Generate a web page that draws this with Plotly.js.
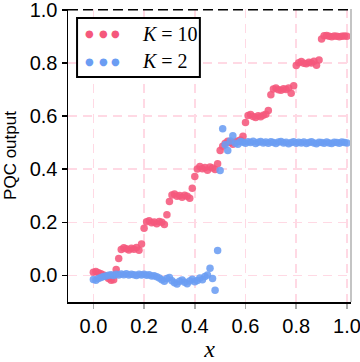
<!DOCTYPE html>
<html>
<head>
<meta charset="utf-8">
<script src="https://cdn.plot.ly/plotly-3.0.1.min.js"></script>
<style>
  html, body { margin: 0; padding: 0; background: #fff; }
  #chart { width: 360px; height: 362px; }
</style>
</head>
<body>
<div id="chart"></div>
<script>
// input x grid shared by both series
const xVals = [
  0.00, 0.01, 0.02, 0.03, 0.04, 0.05, 0.06, 0.07, 0.08, 0.09,
  0.10, 0.11, 0.12, 0.13, 0.14, 0.15, 0.16, 0.17, 0.18, 0.19,
  0.20, 0.21, 0.22, 0.23, 0.24, 0.25, 0.26, 0.27, 0.28, 0.29,
  0.30, 0.31, 0.32, 0.33, 0.34, 0.35, 0.36, 0.37, 0.38, 0.39,
  0.40, 0.41, 0.42, 0.43, 0.44, 0.45, 0.46, 0.47, 0.48, 0.49,
  0.50, 0.51, 0.52, 0.53, 0.54, 0.55, 0.56, 0.57, 0.58, 0.59,
  0.60, 0.61, 0.62, 0.63, 0.64, 0.65, 0.66, 0.67, 0.68, 0.69,
  0.70, 0.71, 0.72, 0.73, 0.74, 0.75, 0.76, 0.77, 0.78, 0.79,
  0.80, 0.81, 0.82, 0.83, 0.84, 0.85, 0.86, 0.87, 0.88, 0.89,
  0.90, 0.91, 0.92, 0.93, 0.94, 0.95, 0.96, 0.97, 0.98, 0.99,
  1.00
]

// PQC output, K = 10
const outK10 = [
  0.012, 0.015, 0.010, 0.006, 0.002, -0.004, -0.012, -0.018, -0.016, 0.022,
  0.064, 0.098, 0.104, 0.100, 0.096, 0.102, 0.099, 0.105, 0.095, 0.118,
  0.178, 0.202, 0.206, 0.198, 0.201, 0.195, 0.203, 0.200, 0.192, 0.228,
  0.278, 0.303, 0.307, 0.298, 0.301, 0.294, 0.302, 0.298, 0.291, 0.328,
  0.372, 0.401, 0.410, 0.402, 0.406, 0.396, 0.408, 0.404, 0.399, 0.420,
  0.470, 0.486, 0.498, 0.505, 0.500, 0.494, 0.502, 0.506, 0.510, 0.524,
  0.576, 0.602, 0.606, 0.598, 0.595, 0.601, 0.597, 0.603, 0.607, 0.621,
  0.680, 0.702, 0.706, 0.699, 0.697, 0.703, 0.700, 0.706, 0.686, 0.714,
  0.790, 0.801, 0.805, 0.799, 0.797, 0.803, 0.800, 0.806, 0.791, 0.811,
  0.890, 0.902, 0.903, 0.900, 0.899, 0.901, 0.900, 0.899, 0.900, 0.901,
  0.900
]

// PQC output, K = 2
const outK2 = [
  -0.015, -0.018, -0.012, -0.008, -0.004, -0.002, 0.001, 0.003, 0.000, 0.004,
  0.002, 0.005, 0.003, 0.006, 0.002, 0.004, 0.003, 0.000, 0.004, 0.002,
  0.004, 0.001, 0.003, -0.002, -0.001, -0.005, -0.010, -0.016, -0.022, -0.012,
  -0.008, -0.020, -0.028, -0.032, -0.022, -0.017, -0.026, -0.031, -0.021, -0.014,
  -0.024, -0.019, -0.010, -0.016, -0.004, 0.002, 0.027, -0.012, -0.056, 0.094,
  0.395, 0.552, 0.492, 0.470, 0.506, 0.526, 0.498, 0.494, 0.504, 0.501,
  0.498, 0.503, 0.500, 0.505, 0.497, 0.501, 0.504, 0.499, 0.502, 0.498,
  0.503, 0.500, 0.497, 0.502, 0.504, 0.499, 0.501, 0.496, 0.500, 0.503,
  0.498, 0.501, 0.499, 0.502, 0.497, 0.500, 0.503, 0.499, 0.496, 0.501,
  0.500, 0.498, 0.502, 0.499, 0.497, 0.501, 0.500, 0.498, 0.502, 0.500,
  0.499
]

const tickVals = [0, 0.2, 0.4, 0.6, 0.8, 1.0]
const tickText = ['0.0', '0.2', '0.4', '0.6', '0.8', '1.0']

const seriesNames = ['<i>K</i> = 10', '<i>K</i> = 2']
const seriesColors = ['#f5587c', '#6b9df3']

const container = document.getElementById('chart')

const scatterK10 = {
  name: seriesNames[0],
  x: xVals,
  y: outK10,
  type: 'scatter',
  mode: 'markers',
  marker: { color: seriesColors[0], size: 7.5, opacity: 0.88 },
  showlegend: false
}

const scatterK2 = {
  name: seriesNames[1],
  x: xVals,
  y: outK2,
  type: 'scatter',
  mode: 'markers',
  marker: { color: seriesColors[1], size: 7.5, opacity: 0.88 },
  showlegend: false
}

const gridStyle = {
  showgrid: true,
  gridcolor: '#ffd9e4',
  gridwidth: 1.5,
  griddash: '9px,6px',
  zeroline: false,
  showline: true,
  linecolor: '#000',
  linewidth: 1.5,
  ticks: 'outside',
  ticklen: 5,
  tickwidth: 1.5,
  tickvals: tickVals,
  ticktext: tickText,
  ticklabeloverflow: 'allow',
  tickfont: { family: 'Liberation Sans, Arial, sans-serif', size: 20, color: '#000' }
}

// hand-made legend box, matplotlib style with three dots per entry
const legendBox = { x0: 0.032, x1: 0.466, y0: 0.768, y1: 0.969 }
const legendRows = [0.9147, 0.8225]
const legendDotX = [0.0777, 0.1237, 0.1696]
const legendTextX = 0.254

const annotations = []
legendRows.forEach((ry, k) => {
  legendDotX.forEach(dx => {
    annotations.push({
      xref: 'paper', yref: 'paper', x: dx, y: ry,
      text: '\u25CF', showarrow: false,
      font: { family: 'DejaVu Sans', size: 10, color: seriesColors[k] },
      xanchor: 'center', yanchor: 'middle'
    })
  })
  annotations.push({
    xref: 'paper', yref: 'paper', x: legendTextX, y: ry,
    text: seriesNames[k], showarrow: false,
    font: { family: 'Liberation Serif, serif', size: 20, color: '#000' },
    xanchor: 'left', yanchor: 'middle'
  })
})

const layout = {
  width: 360,
  height: 362,
  margin: { l: 68, r: 9, t: 9, b: 60 },
  paper_bgcolor: '#fff',
  plot_bgcolor: '#fff',
  showlegend: false,
  xaxis: Object.assign({}, gridStyle, {
    range: [-0.1, 1.016],
    tickcolor: '#aaa',
    title: {
      text: '<i>x</i>',
      font: { family: 'Liberation Serif, serif', size: 24, color: '#000' },
      standoff: 0
    }
  }),
  yaxis: Object.assign({}, gridStyle, {
    range: [-0.1, 1.003],
    tickcolor: '#000',
    title: {
      text: 'PQC output',
      font: { family: 'Liberation Sans, Arial, sans-serif', size: 17, color: '#000' },
      standoff: 8
    }
  }),
  shapes: [
    {
      type: 'line', xref: 'paper', yref: 'y', x0: 0, x1: 1, y0: 1, y1: 1,
      line: { color: '#000', width: 1.5, dash: '10px,5px' }
    },
    {
      type: 'line', xref: 'paper', yref: 'paper', x0: 1, x1: 1, y0: 0, y1: 1,
      line: { color: '#c4c4c4', width: 2 }
    },
    {
      type: 'rect', xref: 'paper', yref: 'paper',
      x0: legendBox.x0, x1: legendBox.x1, y0: legendBox.y0, y1: legendBox.y1,
      fillcolor: '#fff', line: { color: '#000', width: 2 }, layer: 'above'
    }
  ],
  annotations: annotations
}

Plotly.newPlot(container, [scatterK10, scatterK2], layout, { displayModeBar: false, staticPlot: true })
</script>
</body>
</html>
